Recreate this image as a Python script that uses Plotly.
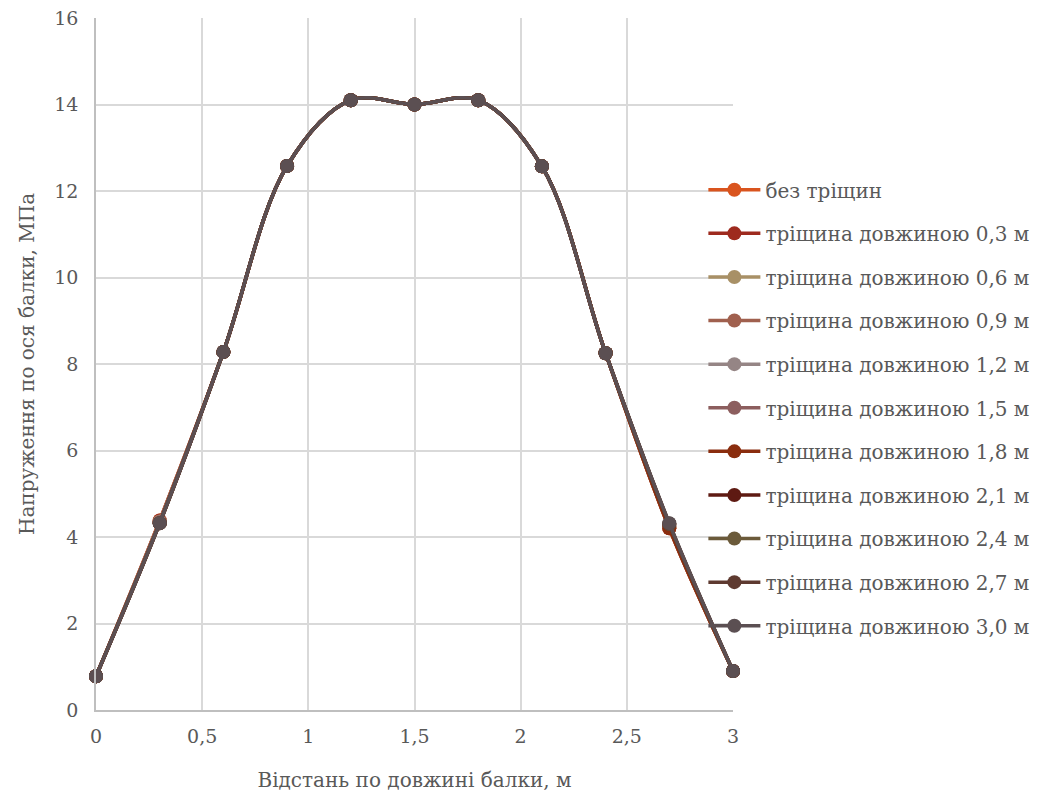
import plotly.graph_objects as go

x_vals = [0, 0.3, 0.6, 0.9, 1.2, 1.5, 1.8, 2.1, 2.4, 2.7, 3.0]

series_names = [
    "без тріщин",
    "тріщина довжиною 0,3 м",
    "тріщина довжиною 0,6 м",
    "тріщина довжиною 0,9 м",
    "тріщина довжиною 1,2 м",
    "тріщина довжиною 1,5 м",
    "тріщина довжиною 1,8 м",
    "тріщина довжиною 2,1 м",
    "тріщина довжиною 2,4 м",
    "тріщина довжиною 2,7 м",
    "тріщина довжиною 3,0 м",
]

y_no_crack = [0.78, 4.38, 8.28, 12.58, 14.1, 14.0, 14.1, 12.57, 8.25, 4.2, 0.9]
y_03 = [0.78, 4.38, 8.28, 12.58, 14.1, 14.0, 14.1, 12.57, 8.25, 4.2, 0.9]
y_06 = [0.78, 4.36, 8.28, 12.58, 14.1, 14.0, 14.1, 12.57, 8.25, 4.22, 0.9]
y_09 = [0.78, 4.35, 8.28, 12.58, 14.1, 14.0, 14.1, 12.57, 8.25, 4.25, 0.9]
y_12 = [0.78, 4.34, 8.28, 12.58, 14.1, 14.0, 14.1, 12.57, 8.25, 4.26, 0.9]
y_15 = [0.78, 4.33, 8.28, 12.58, 14.1, 14.0, 14.1, 12.57, 8.25, 4.28, 0.9]
y_18 = [0.78, 4.32, 8.28, 12.58, 14.1, 14.0, 14.1, 12.57, 8.25, 4.2, 0.9]
y_21 = [0.78, 4.32, 8.28, 12.58, 14.1, 14.0, 14.1, 12.57, 8.25, 4.3, 0.9]
y_24 = [0.78, 4.32, 8.28, 12.58, 14.1, 14.0, 14.1, 12.57, 8.25, 4.3, 0.9]
y_27 = [0.78, 4.32, 8.28, 12.58, 14.1, 14.0, 14.1, 12.57, 8.25, 4.31, 0.9]
y_30 = [0.78, 4.32, 8.28, 12.58, 14.1, 14.0, 14.1, 12.57, 8.25, 4.32, 0.9]

all_y = [y_no_crack, y_03, y_06, y_09, y_12, y_15, y_18, y_21, y_24, y_27, y_30]

colors = ["#D9541E", "#9E2A1E", "#A89066", "#A0604E", "#958585", "#8C5E5E",
          "#8A2D0E", "#5E1A12", "#6B5A3A", "#5E3A30", "#5B4F52"]

font_family = "DejaVu Serif"
grey = "#595959"

fig = go.Figure()
for i, (name, ys, c) in enumerate(zip(series_names, all_y, colors)):
    fig.add_trace(go.Scatter(
        x=x_vals, y=ys, name=name, mode="lines+markers",
        line=dict(color=c, width=3.5, shape="spline", smoothing=1.0),
        marker=dict(color=c, size=14),
        legendgroup=f"g{i}",
        cliponaxis=False,
    ))

fig.update_layout(
    width=1046, height=792,
    paper_bgcolor="white", plot_bgcolor="white",
    margin=dict(l=96, r=312, t=18, b=82),
    font=dict(family=font_family, size=19, color=grey),
    showlegend=True,
    legend=dict(
        x=0.952, y=0.78, xanchor="left", yanchor="top",
        bgcolor="rgba(0,0,0,0)",
        font=dict(family=font_family, size=20, color=grey),
        tracegroupgap=14.6, traceorder="grouped", itemwidth=52,
    ),
    xaxis=dict(
        range=[0, 3], tickvals=[0, 0.5, 1, 1.5, 2, 2.5, 3],
        ticktext=["0", "0,5", "1", "1,5", "2", "2,5", "3"],
        showgrid=True, gridcolor="#D9D9D9", gridwidth=1.5,
        showline=True, linecolor="#BFBFBF", linewidth=1.5,
        zeroline=False, ticks="", ticklabelstandoff=8, automargin=False,
        title=dict(text="Відстань по довжині балки, м", font=dict(size=20, color=grey), standoff=28),
    ),
    yaxis=dict(
        range=[0, 16], tickvals=list(range(0, 17, 2)),
        showgrid=True, gridcolor="#D9D9D9", gridwidth=1.5,
        showline=True, linecolor="#BFBFBF", linewidth=1.5,
        zeroline=False, ticks="", ticklabelstandoff=12, automargin=False,
        title=dict(text="Напруження по ося балки, МПа", font=dict(size=20, color=grey), standoff=14),
    ),
)

fig.write_html("out.html")
